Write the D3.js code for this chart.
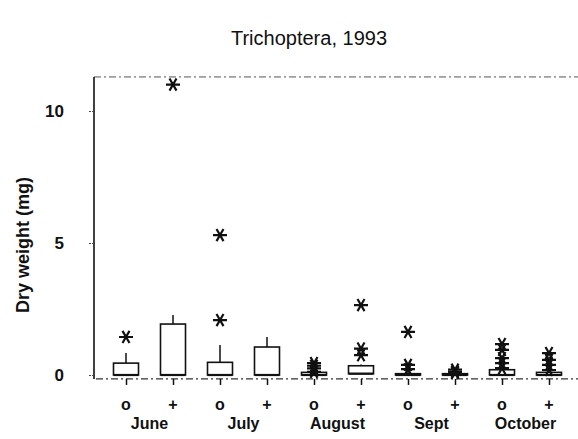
<!DOCTYPE html>
<meta charset="utf-8">
<head>
<style>
  body { margin: 0; background: #fff; }
  text { font-family: "Liberation Sans", Arial, sans-serif; fill: #111; }
</style>
</head>
<body>
<div id="chart"></div>
<script src="https://d3js.org/d3.v7.min.js"></script>
<script>
// data
var months = ['June', 'July', 'August', 'Sept', 'October'];
var treatments = ['o', '+'];
var groups = ['Jun o', 'Jun +', 'Jul o', 'Jul +', 'Aug o', 'Aug +', 'Sep o', 'Sep +', 'Oct o', 'Oct +'];
var q1 = [0, 0, 0, 0, 0, 0.05, 0, 0, 0, 0];
var q3 = [0.45, 1.93, 0.48, 1.06, 0.1, 0.35, 0.05, 0.05, 0.2, 0.1];
var whiskerHi = [0.83, 2.27, 1.14, 1.44, 0.2, 0.4, 0.15, 0.1, 0.3, 0.2];
var outliers = [
    [1.44],
    [11.0],
    [5.3, 2.08],
    [],
    [0.45, 0.35, 0.25, 0.12],
    [2.65, 1.0, 0.75],
    [1.63, 0.38, 0.22],
    [0.2, 0.12, 0.08],
    [1.17, 0.95, 0.64, 0.45, 0.26],
    [0.83, 0.57, 0.38, 0.19]
];
var yTicks = [0, 5, 10];

var width = 578, height = 439;
var svg = d3.select('#chart').append('svg')
    .attr('width', width)
    .attr('height', height);

var x = d3.scalePoint().domain(groups).range([126, 549]);
var y = d3.scaleLinear().domain([0, 10]).range([375, 111]);
var boxW = 25;
var yTop = y(11.29), yBottom = y(-0.15), xLeft = 94;

// title
svg.append('text')
    .attr('x', 309).attr('y', 45)
    .attr('text-anchor', 'middle')
    .style('font-size', '20px')
    .text('Trichoptera, 1993');

// y label
svg.append('text')
    .attr('transform', 'translate(29,245) rotate(-90)')
    .attr('text-anchor', 'middle')
    .style('font-size', '18px')
    .style('font-weight', 'bold')
    .text('Dry weight (mg)');

// frame: dash-dot top and bottom, solid left
svg.append('line')
    .attr('x1', xLeft).attr('x2', width).attr('y1', yTop).attr('y2', yTop)
    .attr('stroke', '#555').attr('stroke-width', 1)
    .attr('stroke-dasharray', '7,3,2,3');
svg.append('line')
    .attr('x1', xLeft + 2).attr('x2', width).attr('y1', yBottom).attr('y2', yBottom)
    .attr('stroke', '#333').attr('stroke-width', 1.2)
    .attr('stroke-dasharray', '7,3,2,3');
svg.append('line')
    .attr('x1', xLeft).attr('x2', xLeft).attr('y1', yTop).attr('y2', yBottom)
    .attr('stroke', '#111').attr('stroke-width', 1.6);

// y axis ticks and labels
var yAxis = d3.axisLeft(y).tickValues(yTicks).tickSize(5).tickPadding(25);
var gy = svg.append('g')
    .attr('transform', 'translate(' + xLeft + ',0)')
    .call(yAxis);
gy.select('.domain').remove();
gy.attr('font-size', null).attr('font-family', null);
gy.selectAll('.tick line').attr('stroke', '#444').attr('stroke-dasharray', '2,1');
gy.selectAll('.tick text')
    .style('font-size', '17px').style('font-weight', 'bold')
    .attr('fill', '#111');

// x axis ticks (short marks below the base line)
var xAxis = d3.axisBottom(x).tickSize(6).tickFormat('');
var gx = svg.append('g')
    .attr('transform', 'translate(0,' + yBottom + ')')
    .call(xAxis);
gx.select('.domain').remove();
gx.selectAll('.tick line').attr('stroke', '#111').attr('stroke-width', 1.5);

// treatment labels
svg.selectAll('.trt').data(groups).enter().append('text')
    .attr('class', 'trt')
    .attr('x', d => x(d))
    .attr('y', 410)
    .attr('text-anchor', 'middle')
    .style('font-size', '16px').style('font-weight', 'bold')
    .text((d, i) => treatments[i % 2]);

// month labels
svg.selectAll('.month').data(months).enter().append('text')
    .attr('class', 'month')
    .attr('x', (d, i) => (x(groups[2 * i]) + x(groups[2 * i + 1])) / 2)
    .attr('y', 429)
    .attr('text-anchor', 'middle')
    .style('font-size', '16px').style('font-weight', 'bold')
    .text(d => d);

// boxes
var boxes = svg.selectAll('.box').data(groups).enter().append('g').attr('class', 'box');
boxes.append('line')
    .attr('x1', d => x(d)).attr('x2', d => x(d))
    .attr('y1', (d, i) => y(q3[i])).attr('y2', (d, i) => y(whiskerHi[i]))
    .attr('stroke', '#111').attr('stroke-width', 1.5);
boxes.append('rect')
    .attr('x', d => x(d) - boxW / 2)
    .attr('width', boxW)
    .attr('y', (d, i) => y(q3[i]))
    .attr('height', (d, i) => Math.max(1, y(q1[i]) - y(q3[i])))
    .attr('fill', 'none')
    .attr('stroke', '#111').attr('stroke-width', 1.6);
boxes.append('line')
    .attr('x1', d => x(d) - boxW / 2).attr('x2', d => x(d) + boxW / 2)
    .attr('y1', (d, i) => y(q1[i])).attr('y2', (d, i) => y(q1[i]))
    .attr('stroke', '#111').attr('stroke-width', 2.2);

// asterisk outliers
function star(r) {
    var p = '';
    [0, 60, 120].forEach(function(a) {
        var t = a * Math.PI / 180;
        var dx = r * Math.cos(t), dy = r * Math.sin(t);
        p += 'M' + (-dx) + ',' + (-dy) + 'L' + dx + ',' + dy;
    });
    return p;
}
var pts = [];
groups.forEach(function(g, i) {
    outliers[i].forEach(function(v) { pts.push({ g: g, v: v }); });
});
svg.selectAll('.star').data(pts).enter().append('path')
    .attr('class', 'star')
    .attr('transform', d => 'translate(' + x(d.g) + ',' + y(d.v) + ')')
    .attr('d', star(7))
    .attr('stroke', '#111').attr('stroke-width', 2.2)
    .attr('fill', 'none');
</script>
</body>
